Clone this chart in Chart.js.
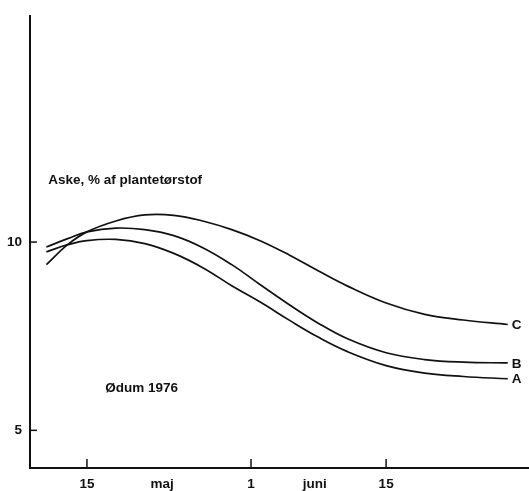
<!DOCTYPE html>
<html>
<head>
<meta charset="utf-8">
<script src="https://cdn.jsdelivr.net/npm/chart.js@4"></script>
<style>
  body { margin: 0; background: #fff; }
  #wrap { width: 529px; height: 491px; }
</style>
</head>
<body>
<div id="wrap"><canvas id="chart"></canvas></div>
<script>
// days counted from 1 May (15 = 15 maj, 32 = 1 juni, 46 = 15 juni)
const days = [10.8, 13, 15, 18, 21, 24, 27, 30, 33, 36, 39, 42, 46, 50, 54, 58.6];

// Aske, % af plantetørstof
const seriesA = [9.74, 9.93, 10.04, 10.07, 9.96, 9.70, 9.32, 8.84, 8.40, 7.92, 7.47, 7.09, 6.72, 6.52, 6.43, 6.37];
const seriesB = [9.87, 10.09, 10.27, 10.37, 10.33, 10.17, 9.85, 9.40, 8.86, 8.33, 7.84, 7.43, 7.06, 6.88, 6.81, 6.79];
const seriesC = [9.40, 9.93, 10.27, 10.56, 10.72, 10.71, 10.56, 10.33, 10.03, 9.65, 9.23, 8.83, 8.38, 8.08, 7.93, 7.81];

const xTickDays = [15, 22.8, 32, 38.6, 46];
const xTickLabels = ["15", "maj", "1", "juni", "15"];
const xTickMarks = [15, 32, 46];
const yTicks = [5, 10];

const ink = "#111";
const fontFamily = "'Liberation Sans', Arial, sans-serif";
Chart.defaults.font.family = fontFamily;
Chart.defaults.font.size = 13.5;
Chart.defaults.font.weight = "bold";
Chart.defaults.color = ink;

function toPoints(vals) {
  return days.map((d, i) => ({ x: d, y: vals[i] }));
}

// inward tick marks, curve names and notes
const extras = {
  id: "extras",
  afterDraw(chart) {
    const { ctx, scales: { x, y } } = chart;
    ctx.save();
    ctx.strokeStyle = ink;
    ctx.lineWidth = 1.5;
    xTickMarks.forEach(d => {
      const px = x.getPixelForValue(d);
      ctx.beginPath();
      ctx.moveTo(px, y.bottom);
      ctx.lineTo(px, y.bottom - 9);
      ctx.stroke();
    });
    yTicks.forEach(v => {
      const py = y.getPixelForValue(v);
      ctx.beginPath();
      ctx.moveTo(x.left, py);
      ctx.lineTo(x.left + 7, py);
      ctx.stroke();
    });

    ctx.fillStyle = ink;
    ctx.font = "bold 13.5px " + fontFamily;
    ctx.textBaseline = "middle";
    ctx.textAlign = "left";
    chart.data.datasets.forEach((ds, i) => {
      const pts = chart.getDatasetMeta(i).data;
      const last = pts[pts.length - 1];
      ctx.fillText(ds.label, last.x + 4, last.y + 1);
    });

    ctx.fillText("Aske, % af plantetørstof", x.getPixelForValue(11.0), y.getPixelForValue(11.63));
    ctx.fillText("Ødum 1976", x.getPixelForValue(16.9), y.getPixelForValue(6.13));
    ctx.restore();
  }
};

new Chart(document.getElementById("chart"), {
  type: "line",
  data: {
    datasets: [
      { label: "C", data: toPoints(seriesC) },
      { label: "B", data: toPoints(seriesB) },
      { label: "A", data: toPoints(seriesA) }
    ]
  },
  options: {
    responsive: true,
    maintainAspectRatio: false,
    animation: false,
    layout: { padding: { top: 11, right: 1, left: 0, bottom: 0 } },
    elements: {
      line: { borderColor: ink, borderWidth: 1.7, tension: 0.4, fill: false },
      point: { radius: 0 }
    },
    plugins: { legend: { display: false }, tooltip: { enabled: false } },
    scales: {
      x: {
        type: "linear",
        min: 9.1,
        max: 60.7,
        grid: { display: false, drawTicks: false },
        border: { display: true, color: ink, width: 2 },
        afterBuildTicks: s => { s.ticks = xTickDays.map(v => ({ value: v })); },
        afterFit: s => { s.height = 23; },
        ticks: {
          autoSkip: false,
          maxRotation: 0,
          padding: 8,
          callback: (v, i) => xTickLabels[i]
        }
      },
      y: {
        min: 4,
        max: 16,
        grid: { display: false, drawTicks: false },
        border: { display: true, color: ink, width: 2 },
        afterBuildTicks: s => { s.ticks = yTicks.map(v => ({ value: v })); },
        afterFit: s => { s.width = 30; },
        ticks: { padding: 8, callback: v => String(v) }
      }
    }
  },
  plugins: [extras]
});
</script>
</body>
</html>
